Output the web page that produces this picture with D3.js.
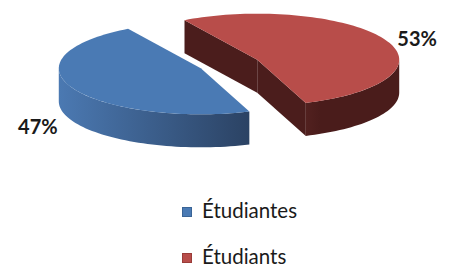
<!DOCTYPE html>
<html>
<head>
<meta charset="utf-8">
<script src="https://cdn.jsdelivr.net/npm/d3@7"></script>
<style>
  body { margin: 0; background: #fff; }
  svg { display: block; }
</style>
</head>
<body>
<div id="chart"></div>
<script>
// data
const categories = ["Étudiantes", "Étudiants"];
const values = [47, 53];
const topColors = ["#4a7ab4", "#b84d4a"];
const sideLight = ["#4b79b2", "#5a2624"];
const sideDark = ["#2b4263", "#4a1c1b"];
const radialColors = ["#2f4a70", "#4b1d1c"];

const W = 454, H = 268;
const cx = 229, cy = 64;      // centre of the pie (top face)
const rx = 142, ry = 46;      // ellipse radii
const depth = 33;             // thickness
const explode = 0.22;
const deg = Math.PI / 180;

const svg = d3.select("#chart").append("svg")
  .attr("width", W).attr("height", H);

const defs = svg.append("defs");

let pie = d3.pie()
  .sort(null)
  .value(d => d)
  .startAngle(160 * deg)
  .endAngle(520 * deg);

let arcs = pie(values);

// project an angle (clockwise from 12 o'clock) onto the tilted ellipse
function proj(a, off, r, z) {
  r = r == null ? 1 : r;
  z = z || 0;
  return [cx + off[0] + r * rx * Math.sin(a), cy + off[1] - r * ry * Math.cos(a) + z];
}

function sample(a0, a1) {
  let n = Math.max(2, Math.ceil(Math.abs(a1 - a0) / (2 * deg)));
  return d3.range(n + 1).map(i => a0 + (a1 - a0) * i / n);
}

let line = d3.line();

// back to front : red (behind) then blue
let order = [1, 0];

order.forEach(i => {
  let d = arcs[i];
  let a0 = d.startAngle, a1 = d.endAngle;
  let mid = (a0 + a1) / 2;
  let off = [explode * rx * Math.sin(mid), -explode * ry * Math.cos(mid)];
  let c = [cx + off[0], cy + off[1]];
  let g = svg.append("g");

  // radial walls (only those turned to the viewer)
  [[a0, Math.sin(a0) < 0], [a1, Math.sin(a1) > 0]].forEach(([a, vis]) => {
    if (!vis) return;
    let p = proj(a, off);
    let pts = [c, p, [p[0], p[1] + depth], [c[0], c[1] + depth]];
    g.append("path")
      .attr("d", line(pts) + "Z")
      .attr("fill", radialColors[i]);
  });

  // outer wall, front half of the rim only
  let grad = defs.append("linearGradient")
    .attr("id", "side" + i)
    .attr("gradientUnits", "userSpaceOnUse")
    .attr("x1", c[0] - rx).attr("x2", c[0] + rx * (i == 0 ? 0.35 : 1))
    .attr("y1", 0).attr("y2", 0);
  if (i == 0) {
    grad.append("stop").attr("offset", 0).attr("stop-color", sideLight[i]);
    grad.append("stop").attr("offset", 1).attr("stop-color", sideDark[i]);
  } else {
    grad.append("stop").attr("offset", 0).attr("stop-color", sideLight[i]);
    grad.append("stop").attr("offset", 0.62).attr("stop-color", sideLight[i]);
    grad.append("stop").attr("offset", 0.72).attr("stop-color", sideDark[i]);
    grad.append("stop").attr("offset", 1).attr("stop-color", sideDark[i]);
  }

  for (let k = -1; k <= 2; k++) {
    let f0 = Math.max(a0, 90 * deg + k * 360 * deg);
    let f1 = Math.min(a1, 270 * deg + k * 360 * deg);
    if (f1 <= f0) continue;
    let angs = sample(f0, f1);
    let topPts = angs.map(a => proj(a, off));
    let botPts = angs.slice().reverse().map(a => proj(a, off, 1, depth));
    g.append("path")
      .attr("d", line(topPts.concat(botPts)) + "Z")
      .attr("fill", "url(#side" + i + ")");
  }

  // top face
  let rim = sample(a0, a1).map(a => proj(a, off));
  g.append("path")
    .attr("d", line([c].concat(rim)) + "Z")
    .attr("fill", topColors[i]);

  // percentage label
  let lp = proj(mid, off, 1.27, i == 0 ? depth : 0);
  g.append("text")
    .attr("x", lp[0] - (i == 0 ? 0 : 3)).attr("y", lp[1] + (i == 0 ? 0 : 3))
    .attr("text-anchor", "middle")
    .attr("dominant-baseline", "central")
    .style("font-family", "Lato, 'Open Sans', sans-serif")
    .style("font-weight", "bold")
    .style("font-size", "20px")
    .style("fill", "#1a1a1a")
    .text(Math.round(100 * d.value / d3.sum(values)) + "%");
});

/* ------------------ legend ------------------ */
let legend = svg.append("g").attr("transform", "translate(182, 207)");

let item = legend.selectAll("g")
  .data(categories)
  .enter()
  .append("g")
  .attr("transform", (d, i) => "translate(0," + i * 46 + ")");

item.append("rect")
  .attr("x", 0.5).attr("y", 0.5)
  .attr("width", 9).attr("height", 9)
  .attr("fill", (d, i) => topColors[i])
  .attr("stroke", (d, i) => i == 0 ? "#3a6496" : "#9a3c39")
  .attr("stroke-width", 1);

item.append("text")
  .attr("x", 20).attr("y", 10.5)
  .style("font-family", "Lato, 'Open Sans', sans-serif")
  .style("font-size", "20.5px")
  .style("fill", "#1a1a1a")
  .text(d => d);
</script>
</body>
</html>
